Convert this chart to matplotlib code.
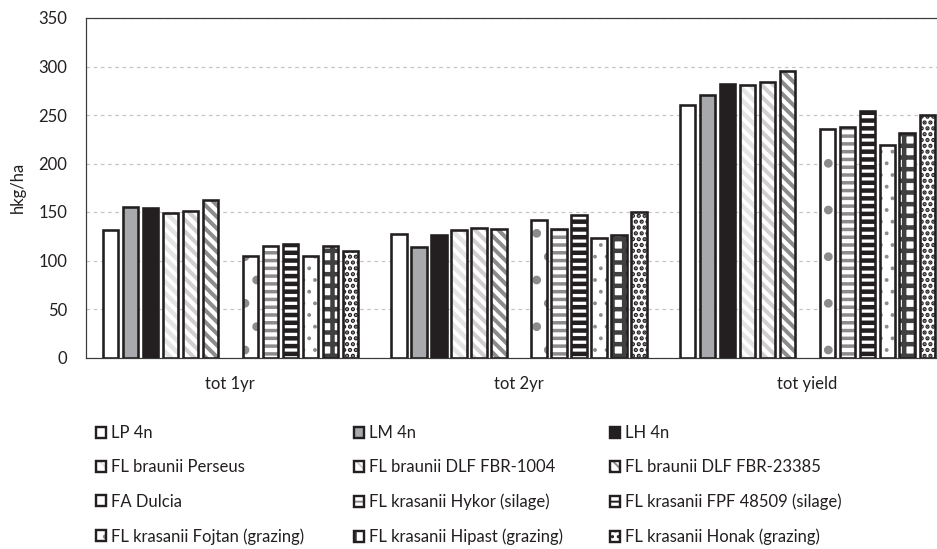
import numpy as np
import matplotlib.pyplot as plt
from matplotlib.patches import Patch

plt.rcParams['font.family'] = ['Lato', 'DejaVu Sans']

DPI = 140
PX = 72.0 / DPI          # points per pixel

## data
categories = ['tot 1yr', 'tot 2yr', 'tot yield']
varieties = ['LP 4n', 'LM 4n', 'LH 4n',
             'FL braunii Perseus', 'FL braunii DLF FBR-1004', 'FL braunii DLF FBR-23385',
             'FA Dulcia', 'FL krasanii Hykor (silage)', 'FL krasanii FPF 48509 (silage)',
             'FL krasanii Fojtan (grazing)', 'FL krasanii Hipast (grazing)', 'FL krasanii Honak (grazing)']
tot_1yr = [131, 155, 154, 149, 151, 162, 105, 115, 117, 105, 115, 110]
tot_2yr = [127, 114, 126, 131, 133, 132, 142, 132, 147, 123, 126, 150]
tot_yield = [260, 271, 282, 281, 284, 295, 236, 238, 254, 219, 231, 250]

## look of each series: face, hatch, hatch colour, hatch width [px]
dark = '#231f20'
styles = [
    ('white', '', 'white', 0),
    ('#a7a9ac', '', '#a7a9ac', 0),
    (dark, '', dark, 0),
    ('white', '\\\\\\\\', '#e4e4e4', 4.5),
    ('white', '\\\\\\\\', '#cfcfcf', 4),
    ('white', '\\\\\\\\', '#8c8c8c', 4),
    ('white', '.', '#8c8c8c', 4),
    ('white', '---', '#8c8c8c', 3.5),
    ('white', '---', dark, 4.5),
    ('white', '..', '#8c8c8c', 1.5),
    ('white', '++', '#404040', 4.5),
    ('white', '....', dark, 3),
]

values = np.array([tot_1yr, tot_2yr, tot_yield])   # (category, variety)

fig = plt.figure(figsize=(937 / DPI, 549 / DPI), dpi=DPI)
ax = fig.add_axes([86 / 937, (549 - 357.5) / 549, (951.5 - 86) / 937, (357.5 - 18) / 549])

x = np.arange(len(categories))
pitch = 20 / 288.5
width = 15.5 / 288.5
slots = [0, 1, 2, 3, 4, 5, 7, 8, 9, 10, 11, 12]   # slot 6 is left empty

handles = []
for i, name in enumerate(varieties):
    face, hatch, hcol, hlw = styles[i]
    xs = x + (slots[i] - 6) * pitch
    with plt.rc_context({'hatch.linewidth': max(hlw, 0.1) * PX}):
        fill = ax.bar(xs, values[:, i], width, color=face, edgecolor=hcol,
                      hatch=hatch, linewidth=0, zorder=2)
    for p in fill:
        if hasattr(p, 'set_hatch_linewidth'):
            p.set_hatch_linewidth(max(hlw, 0.1) * PX)
    ax.bar(xs, values[:, i], width, fill=False, edgecolor=dark,
           linewidth=2.6 * PX, zorder=3)
    h1 = Patch(facecolor=face, edgecolor=hcol, hatch=hatch, linewidth=0)
    h2 = Patch(fill=False, edgecolor=dark, linewidth=2.4 * PX)
    handles.append((h1, h2))

ax.set_xlim(-0.5, 2.5)
ax.set_ylim(0, 350)
ax.set_yticks(np.arange(0, 351, 50))
ax.set_xticks(x)
ax.set_xticklabels(categories)
ax.tick_params(axis='both', length=0, labelsize=16.7 * PX, colors=dark)
ax.tick_params(axis='y', pad=19 * PX)
ax.tick_params(axis='x', pad=18 * PX)
ax.yaxis.grid(True, color='#c4c4c4', linewidth=1.2 * PX, linestyle=(0, (3, 3)))
ax.set_axisbelow(True)
ax.set_ylabel('hkg/ha', fontsize=16.7 * PX, color=dark, labelpad=12 * PX)

for s in ['left', 'top', 'bottom']:
    ax.spines[s].set_color('#3a3a3a')
    ax.spines[s].set_linewidth(1.2 * PX)
ax.spines['right'].set_visible(False)

# legend is read row by row (3 per row): one small legend per column
col_x = [96, 354, 610]
for c in range(3):
    idx = list(range(c, len(varieties), 3))
    fig.legend([handles[k] for k in idx], [varieties[k] for k in idx],
               loc='upper left', bbox_to_anchor=(col_x[c] / 937, 1 - 425 / 549),
               frameon=False, fontsize=16.7 * PX, labelcolor=dark,
               handlelength=0.62, handleheight=0.62, handletextpad=0.25,
               labelspacing=1.1, borderpad=0, borderaxespad=0)

fig.savefig('out.png', dpi=DPI)
